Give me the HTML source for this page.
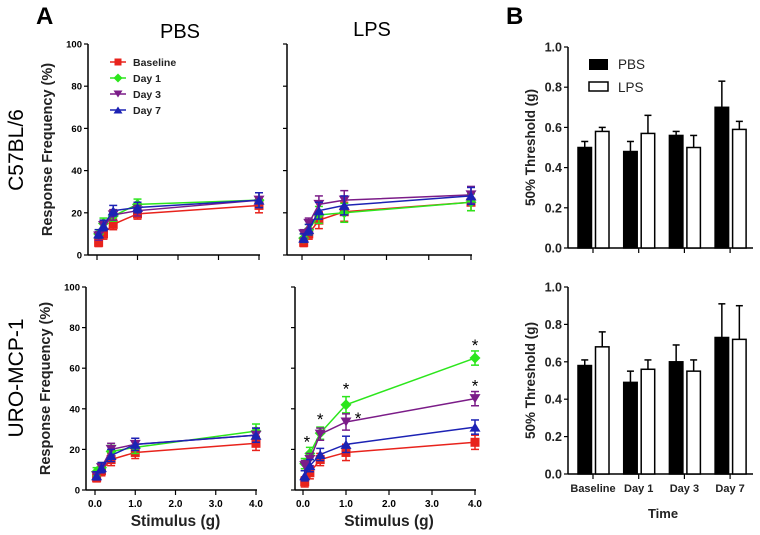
<!DOCTYPE html>
<html><head><meta charset="utf-8"><style>
body{margin:0;background:#fff;}
svg{display:block;font-family:"Liberation Sans",Arial,sans-serif;}
</style></head><body>
<svg id="fig" width="760" height="535" viewBox="0 0 760 535" xmlns="http://www.w3.org/2000/svg">
<text x="36" y="24" font-size="24" font-weight="bold">A</text>
<text x="506" y="24" font-size="24" font-weight="bold">B</text>
<text x="180" y="38" font-size="20" text-anchor="middle">PBS</text>
<text x="372" y="36" font-size="20" text-anchor="middle">LPS</text>
<text transform="translate(23,150) rotate(-90)" font-size="21" text-anchor="middle">C57BL/6</text>
<text transform="translate(23,378) rotate(-90)" font-size="21" text-anchor="middle">URO-MCP-1</text>
<g id="plots"></g>
</svg>
<script>
const stimuli = [0.04, 0.16, 0.4, 1.0, 4.0];
const seriesNames = ["Baseline", "Day 1", "Day 3", "Day 7"];
const c57PbsBaseline = [6, 10, 14.5, 19.5, 23.5];
const c57PbsDay1 = [10, 15, 18.5, 24, 26];
const c57PbsDay3 = [9, 14, 19, 21, 26];
const c57PbsDay7 = [10, 14, 21, 22.5, 26];
const c57PbsErr = [2, 2.5, 2.5, 2.5, 3.5];
const c57LpsBaseline = [6, 10, 16.5, 20.5, 25];
const c57LpsDay1 = [8, 12, 19, 20, 25];
const c57LpsDay3 = [10, 15, 24, 26, 28.5];
const c57LpsDay7 = [8, 12, 21, 23.5, 28];
const c57LpsErr = [2, 2.5, 4, 4.5, 4];
const uroPbsBaseline = [6, 9.5, 15, 18.5, 23];
const uroPbsDay1 = [9, 11, 19, 21, 29];
const uroPbsDay3 = [7, 11, 20, 22.5, 27];
const uroPbsDay7 = [7, 11, 17, 22.5, 27];
const uroPbsErr = [2, 2.5, 3, 3, 3.5];
const uroLpsBaseline = [4, 8.5, 15, 18.5, 23.5];
const uroLpsDay1 = [13, 18, 28, 42, 65];
const uroLpsDay3 = [12, 15, 27.5, 33.5, 45];
const uroLpsDay7 = [7, 12, 17.5, 22.5, 31];
const uroLpsErr = [2.5, 3, 3, 4, 3.5];
const yTicksA = [0, 20, 40, 60, 80, 100];
const xTicksA = [0, 1, 2, 3, 4];
const xTickLabelsA = ["0.0", "1.0", "2.0", "3.0", "4.0"];
const barGroups = ["Baseline", "Day 1", "Day 3", "Day 7"];
const c57BarPbs = [0.50, 0.48, 0.56, 0.70];
const c57BarPbsErr = [0.03, 0.05, 0.02, 0.13];
const c57BarLps = [0.58, 0.57, 0.50, 0.59];
const c57BarLpsErr = [0.02, 0.09, 0.06, 0.04];
const uroBarPbs = [0.58, 0.49, 0.60, 0.73];
const uroBarPbsErr = [0.03, 0.06, 0.09, 0.18];
const uroBarLps = [0.68, 0.56, 0.55, 0.72];
const uroBarLpsErr = [0.08, 0.05, 0.06, 0.18];
const yTicksB = [0, 0.2, 0.4, 0.6, 0.8, 1.0];
const yTickLabelsB = ["0.0", "0.2", "0.4", "0.6", "0.8", "1.0"];

const NS = "http://www.w3.org/2000/svg";
const root = document.getElementById("plots");
function mk(tag, attrs, parent) {
  const e = document.createElementNS(NS, tag);
  for (const k in attrs) e.setAttribute(k, attrs[k]);
  (parent || root).appendChild(e);
  return e;
}
const colors = ["#e8231c", "#2ce61c", "#7b1c88", "#1c22b4"];
const markers = ["square", "diamond", "down", "up"];
function marker(type, cx, cy, col, g, s) {
  s = s || 4.5;
  let el;
  if (type === "square") el = mk("rect", {x: cx - s, y: cy - s, width: 2 * s, height: 2 * s, fill: col}, g);
  else if (type === "diamond") el = mk("polygon", {points: `${cx},${cy - s - 1} ${cx + s + 1},${cy} ${cx},${cy + s + 1} ${cx - s - 1},${cy}`, fill: col}, g);
  else if (type === "down") el = mk("polygon", {points: `${cx - s - 1},${cy - s} ${cx + s + 1},${cy - s} ${cx},${cy + s}`, fill: col}, g);
  else el = mk("polygon", {points: `${cx - s - 1},${cy + s} ${cx + s + 1},${cy + s} ${cx},${cy - s}`, fill: col}, g);
  return el;
}
function linePanel(name, ax, x0, x4, yTop, yBot, series, err, showX, stars) {
  const g = mk("g", {});
  
  
  const xs = v => x0 + (x4 - x0) * v / 4;
  const ys = v => yBot - (yBot - yTop) * v / 100;
  mk("line", {x1: ax, y1: yTop, x2: ax, y2: yBot, stroke: "#000", "stroke-width": 1.5}, g);
  mk("line", {x1: ax, y1: yBot, x2: x4 + 1, y2: yBot, stroke: "#000", "stroke-width": 1.5}, g);
  yTicksA.forEach(t => {
    mk("line", {x1: ax - 4, y1: ys(t), x2: ax, y2: ys(t), stroke: "#000", "stroke-width": 1.2}, g);
    if (name.includes("pbs")) {
      const tl = mk("text", {x: ax - 6, y: ys(t) + 3.5, "font-size": 9.5, "font-weight": "bold", "text-anchor": "end"}, g);
      tl.textContent = t;
    }
  });
  xTicksA.forEach((t, i) => {
    mk("line", {x1: xs(t), y1: yBot, x2: xs(t), y2: yBot + 5, stroke: "#000", "stroke-width": 1.2}, g);
    if (showX) {
      const tl = mk("text", {x: xs(t), y: yBot + 17, "font-size": 10, "font-weight": "bold", "text-anchor": "middle"}, g);
      tl.textContent = xTickLabelsA[i];
    }
  });
  if (name.includes("pbs")) {
    const yl = mk("text", {transform: `translate(${ax - 36},${(yTop + yBot) / 2}) rotate(-90)`, "font-size": 14.5, "font-weight": "bold", "text-anchor": "middle", fill: "#222"}, g);
    yl.textContent = "Response Frequency (%)";
  }
  if (showX) {
    const xl = mk("text", {x: (x0 + x4) / 2, y: yBot + 36, "font-size": 15.5, "font-weight": "bold", "text-anchor": "middle", fill: "#222"}, g);
    xl.textContent = "Stimulus (g)";
  }
  series.forEach((vals, si) => {
    const col = colors[si];
    const sg = mk("g", {}, g);
    
    
    const pts = vals.map((v, i) => `${xs(stimuli[i])},${ys(v)}`).join(" ");
    mk("polyline", {points: pts, fill: "none", stroke: col, "stroke-width": 1.5}, sg);
    vals.forEach((v, i) => {
      const cx = xs(stimuli[i]), e = err[i];
      mk("line", {x1: cx, y1: ys(v + e), x2: cx, y2: ys(v - e), stroke: col, "stroke-width": 1.5}, sg);
      mk("line", {x1: cx - 4, y1: ys(v + e), x2: cx + 4, y2: ys(v + e), stroke: col, "stroke-width": 1.5}, sg);
      mk("line", {x1: cx - 4, y1: ys(v - e), x2: cx + 4, y2: ys(v - e), stroke: col, "stroke-width": 1.5}, sg);
      const m = marker(markers[si], cx, ys(v), col, sg);
      
      
    });
  });
  (stars || []).forEach(s => {
    const st = mk("text", {x: xs(stimuli[s[1]]) + s[2], y: ys(series[s[0]][s[1]] + err[s[1]]) - 4 + s[3], "font-size": 17, "text-anchor": "middle"}, g);
    
    
    st.textContent = "*";
  });
}
linePanel("c57-pbs-chart", 88, 97, 259, 44, 255, [c57PbsBaseline, c57PbsDay1, c57PbsDay3, c57PbsDay7], c57PbsErr, false);
linePanel("c57-lps-chart", 287, 302, 471, 44, 255, [c57LpsBaseline, c57LpsDay1, c57LpsDay3, c57LpsDay7], c57LpsErr, false);
linePanel("uro-pbs-chart", 86, 95, 256, 287, 490, [uroPbsBaseline, uroPbsDay1, uroPbsDay3, uroPbsDay7], uroPbsErr, true);
linePanel("uro-lps-chart", 295, 303, 475, 287, 490, [uroLpsBaseline, uroLpsDay1, uroLpsDay3, uroLpsDay7], uroLpsErr, true,
  [[1, 1, -3, 4], [1, 2, 0, 2], [1, 3, 0, 2], [2, 3, 12, 14], [1, 4, 0, 4], [2, 4, 0, 4]]);

// legend A
const lg = mk("g", {});


seriesNames.forEach((n, i) => {
  const y = 62 + i * 16;
  const eg = mk("g", {}, lg);
  
  
  mk("line", {x1: 110, y1: y, x2: 126, y2: y, stroke: colors[i], "stroke-width": 1.5}, eg);
  marker(markers[i], 118, y, colors[i], eg, 3.5);
  const t = mk("text", {x: 133, y: y + 4, "font-size": 10.5, "font-weight": "bold", fill: "#222"}, eg);
  t.textContent = n;
});

function barPanel(name, yTop, yBot, pbs, pbsE, lps, lpsE, showX) {
  const g = mk("g", {});
  
  
  const ax = 568, xEnd = 753;
  const ys = v => yBot - (yBot - yTop) * v;
  mk("line", {x1: ax, y1: yTop, x2: ax, y2: yBot, stroke: "#000", "stroke-width": 1.5}, g);
  mk("line", {x1: ax, y1: yBot, x2: xEnd, y2: yBot, stroke: "#000", "stroke-width": 1.5}, g);
  yTicksB.forEach((t, i) => {
    mk("line", {x1: ax - 4, y1: ys(t), x2: ax, y2: ys(t), stroke: "#000", "stroke-width": 1.2}, g);
    const tl = mk("text", {x: ax - 6, y: ys(t) + 4.5, "font-size": 12.5, "font-weight": "bold", "text-anchor": "end", fill: "#222"}, g);
    tl.textContent = yTickLabelsB[i];
  });
  const yl = mk("text", {transform: `translate(535,${(yTop + yBot) / 2}) rotate(-90)`, "font-size": 13.5, "font-weight": "bold", "text-anchor": "middle", fill: "#222"}, g);
  yl.textContent = "50% Threshold (g)";
  barGroups.forEach((grp, i) => {
    const gx = 578 + i * 45.7;
    mk("line", {x1: gx + 15, y1: yBot, x2: gx + 15, y2: yBot + 5, stroke: "#000", "stroke-width": 1.2}, g);
    [[pbs, pbsE, "#000"], [lps, lpsE, "#fff"]].forEach((s, k) => {
      const x = gx + k * 17.5, w = 13.5, v = s[0][i], e = s[1][i];
      const cx = x + w / 2;
      mk("line", {x1: cx, y1: ys(v), x2: cx, y2: ys(v + e), stroke: "#000", "stroke-width": 1.5}, g);
      mk("line", {x1: cx - 3.5, y1: ys(v + e), x2: cx + 3.5, y2: ys(v + e), stroke: "#000", "stroke-width": 1.5}, g);
      const b = mk("rect", {x: x, y: ys(v), width: w, height: yBot - ys(v), fill: s[2], stroke: "#000", "stroke-width": 1.5}, g);
      
      
    });
    if (showX) {
      const tl = mk("text", {x: gx + 15, y: yBot + 18, "font-size": 11, "font-weight": "bold", "text-anchor": "middle", fill: "#222"}, g);
      tl.textContent = grp;
    }
  });
  if (showX) {
    const xl = mk("text", {x: 663, y: yBot + 44, "font-size": 13, "font-weight": "bold", "text-anchor": "middle", fill: "#222"}, g);
    xl.textContent = "Time";
  }
}
barPanel("c57-threshold-chart", 47, 248, c57BarPbs, c57BarPbsErr, c57BarLps, c57BarLpsErr, false);
barPanel("uro-threshold-chart", 287, 474, uroBarPbs, uroBarPbsErr, uroBarLps, uroBarLpsErr, true);

const lb = mk("g", {});


mk("rect", {x: 589, y: 59, width: 19, height: 11, fill: "#000"}, lb);
mk("rect", {x: 589, y: 82, width: 19, height: 9, fill: "#fff", stroke: "#000", "stroke-width": 1.5}, lb);
const t1 = mk("text", {x: 618, y: 69, "font-size": 13.5, fill: "#222"}, lb); t1.textContent = "PBS";
const t2 = mk("text", {x: 618, y: 92, "font-size": 13.5, fill: "#222"}, lb); t2.textContent = "LPS";
</script>
</body></html>
